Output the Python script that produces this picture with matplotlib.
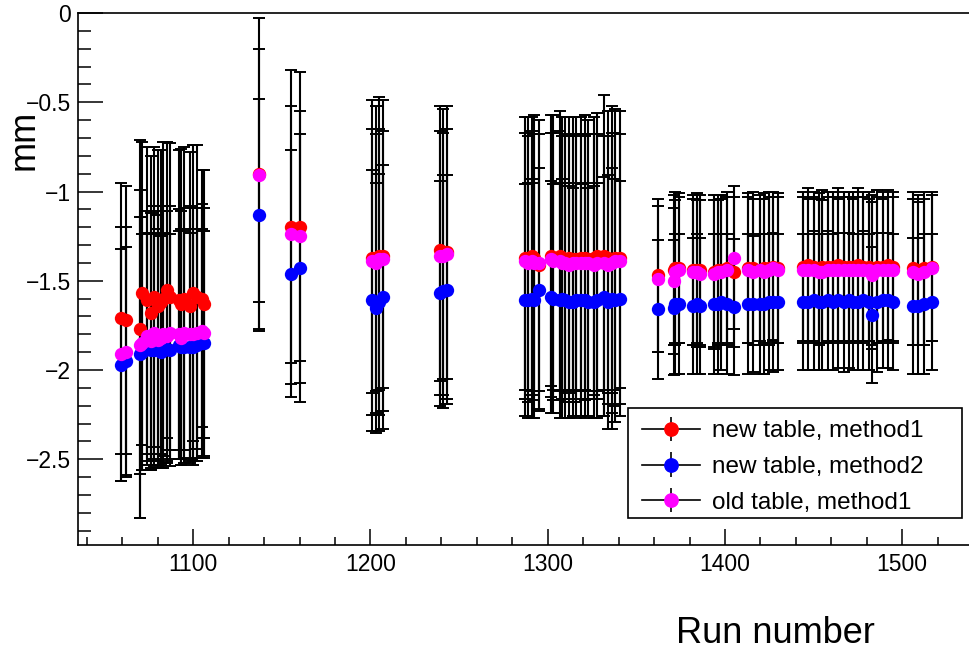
import numpy as np
import matplotlib
matplotlib.use('Agg')
import matplotlib.pyplot as plt
from matplotlib.patches import Rectangle
from matplotlib.ticker import MultipleLocator, FuncFormatter

plt.rcParams['font.family'] = ['Liberation Sans', 'DejaVu Sans']

# run numbers (grouped by data-taking period)
runs = [1059, 1062,
        1070, 1071, 1074, 1076, 1078, 1080, 1082, 1083, 1085, 1087, 1092, 1093, 1095, 1098, 1100, 1102, 1105, 1106,
        1137,
        1155, 1160,
        1201, 1203, 1205, 1207,
        1239, 1241, 1243,
        1287, 1289, 1291, 1292, 1295, 1302, 1303, 1307, 1308, 1310, 1312, 1314, 1316, 1319, 1321, 1323, 1326, 1328,
        1332, 1334, 1336, 1338, 1341,
        1362, 1371, 1372, 1374, 1382, 1384, 1386, 1394, 1396, 1398, 1401, 1405, 1413, 1416, 1420, 1422, 1425, 1427, 1430,
        1444, 1447, 1450, 1453, 1455, 1458, 1461, 1464, 1467, 1470, 1472, 1475, 1478, 1481, 1483, 1486, 1489, 1492, 1495,
        1506, 1509, 1512, 1517]

# new table, method1
red_y = [-1.71, -1.72,
         -1.77, -1.57, -1.61, -1.68, -1.59, -1.64, -1.62, -1.60, -1.55, -1.59, -1.61, -1.63, -1.60, -1.64, -1.57, -1.59, -1.60, -1.63,
         -0.90,
         -1.20, -1.20,
         -1.37, -1.38, -1.36, -1.36,
         -1.33, -1.34, -1.34,
         -1.37, -1.38, -1.36, -1.37, -1.41, -1.36, -1.37, -1.36, -1.37, -1.38, -1.37, -1.38, -1.38, -1.37, -1.37, -1.38, -1.37, -1.36,
         -1.36, -1.37, -1.38, -1.37, -1.37,
         -1.47, -1.44, -1.43, -1.43, -1.44, -1.44, -1.44, -1.45, -1.44, -1.44, -1.43, -1.45, -1.43, -1.43, -1.44, -1.43, -1.43, -1.42, -1.43,
         -1.42, -1.41, -1.42, -1.43, -1.42, -1.42, -1.42, -1.41, -1.42, -1.42, -1.42, -1.41, -1.42, -1.42, -1.44, -1.42, -1.42, -1.41, -1.42,
         -1.43, -1.44, -1.43, -1.42]
red_err = [0.76, 0.75,
           1.06, 0.85, 0.86, 0.88, 0.84, 0.87, 0.85, 0.88, 0.83, 0.86, 0.84, 0.87, 0.85, 0.86, 0.83, 0.85, 0.72, 0.75,
           0.87,
           0.88, 0.87,
           0.88, 0.86, 0.89, 0.87,
           0.81, 0.80, 0.82,
           0.79, 0.80, 0.78, 0.80, 0.81, 0.79, 0.80, 0.81, 0.79, 0.80, 0.79, 0.80, 0.80, 0.79, 0.80, 0.78, 0.79, 0.80,
           0.90, 0.82, 0.86, 0.83, 0.82,
           0.43, 0.42, 0.43, 0.42, 0.42, 0.43, 0.42, 0.43, 0.42, 0.42, 0.43, 0.42, 0.42, 0.43, 0.42, 0.42, 0.43, 0.42, 0.42,
           0.42, 0.43, 0.42, 0.42, 0.43, 0.42, 0.42, 0.43, 0.42, 0.42, 0.42, 0.43, 0.42, 0.42, 0.42, 0.43, 0.42, 0.42, 0.42,
           0.43, 0.42, 0.43, 0.42]

# new table, method2
blue_y = [-1.97, -1.95,
          -1.91, -1.90, -1.88, -1.89, -1.89, -1.88, -1.90, -1.89, -1.88, -1.89, -1.86, -1.87, -1.87, -1.87, -1.87, -1.86, -1.85, -1.85,
          -1.13,
          -1.46, -1.43,
          -1.61, -1.65, -1.62, -1.59,
          -1.57, -1.56, -1.55,
          -1.61, -1.61, -1.60, -1.61, -1.55, -1.59, -1.60, -1.61, -1.60, -1.61, -1.62, -1.62, -1.61, -1.61, -1.61, -1.62, -1.62, -1.61,
          -1.59, -1.62, -1.60, -1.61, -1.60,
          -1.66, -1.65, -1.63, -1.63, -1.64, -1.63, -1.64, -1.63, -1.63, -1.62, -1.63, -1.645, -1.63, -1.63, -1.63, -1.63, -1.62, -1.62, -1.62,
          -1.62, -1.62, -1.61, -1.62, -1.62, -1.61, -1.62, -1.61, -1.62, -1.61, -1.62, -1.62, -1.61, -1.62, -1.69, -1.62, -1.61, -1.61, -1.62,
          -1.64, -1.64, -1.63, -1.62]
blue_err = [0.65, 0.64,
            0.92, 0.66, 0.65, 0.66, 0.65, 0.67, 0.65, 0.66, 0.64, 0.65, 0.64, 0.66, 0.65, 0.64, 0.66, 0.65, 0.64, 0.63,
            0.65,
            0.69, 0.75,
            0.73, 0.70, 0.72, 0.74,
            0.63, 0.65, 0.64,
            0.65, 0.66, 0.67, 0.66, 0.68, 0.65, 0.64, 0.66, 0.67, 0.66, 0.65, 0.64, 0.66, 0.65, 0.66, 0.64, 0.65, 0.66,
            0.67, 0.71, 0.73, 0.68, 0.66,
            0.39, 0.38, 0.39, 0.39, 0.38, 0.39, 0.38, 0.39, 0.39, 0.38, 0.39, 0.38, 0.39, 0.38, 0.39, 0.39, 0.38, 0.39, 0.38,
            0.38, 0.38, 0.39, 0.38, 0.38, 0.39, 0.38, 0.38, 0.39, 0.38, 0.38, 0.38, 0.39, 0.38, 0.38, 0.39, 0.38, 0.38, 0.38,
            0.38, 0.38, 0.39, 0.38]

# old table, method1
mag_y = [-1.91, -1.90,
         -1.86, -1.85, -1.81, -1.84, -1.79, -1.83, -1.82, -1.80, -1.81, -1.79, -1.80, -1.82, -1.79, -1.80, -1.80, -1.79, -1.78, -1.79,
         -0.91,
         -1.24, -1.25,
         -1.39, -1.40, -1.38, -1.38,
         -1.36, -1.36, -1.35,
         -1.39, -1.40, -1.39, -1.40, -1.40, -1.38, -1.39, -1.39, -1.40, -1.40, -1.41, -1.40, -1.40, -1.40, -1.40, -1.40, -1.41, -1.40,
         -1.40, -1.41, -1.40, -1.39, -1.39,
         -1.49, -1.50, -1.45, -1.44, -1.45, -1.45, -1.46, -1.46, -1.45, -1.45, -1.44, -1.37, -1.44, -1.45, -1.44, -1.45, -1.44, -1.43, -1.44,
         -1.44, -1.44, -1.44, -1.45, -1.45, -1.44, -1.44, -1.44, -1.44, -1.44, -1.44, -1.44, -1.44, -1.44, -1.47, -1.44, -1.44, -1.44, -1.44,
         -1.45, -1.46, -1.45, -1.43]
mag_err = [0.71, 0.70,
           0.72, 0.71, 0.70, 0.72, 0.71, 0.70, 0.71, 0.72, 0.70, 0.71, 0.70, 0.71, 0.70, 0.72, 0.71, 0.70, 0.71, 0.70,
           0.71,
           0.72, 0.70,
           0.74, 0.72, 0.73, 0.72,
           0.70, 0.69, 0.70,
           0.72, 0.71, 0.73, 0.72, 0.72, 0.71, 0.72, 0.73, 0.71, 0.72, 0.72, 0.71, 0.72, 0.72, 0.71, 0.72, 0.73, 0.72,
           0.71, 0.72, 0.73, 0.72, 0.71,
           0.41, 0.41, 0.40, 0.41, 0.41, 0.40, 0.41, 0.41, 0.40, 0.41, 0.41, 0.40, 0.41, 0.41, 0.40, 0.41, 0.41, 0.40, 0.41,
           0.41, 0.40, 0.41, 0.41, 0.40, 0.41, 0.41, 0.40, 0.41, 0.41, 0.40, 0.41, 0.41, 0.40, 0.41, 0.41, 0.40, 0.41, 0.41,
           0.41, 0.40, 0.41, 0.41]

series = [
    ('new table, method1', red_y, red_err, '#ff0000'),
    ('new table, method2', blue_y, blue_err, '#0000ff'),
    ('old table, method1', mag_y, mag_err, '#ff00ff'),
]

W, H = 969, 653
fig = plt.figure(figsize=(W / 100, H / 100), dpi=100)
ax = fig.add_axes([78 / W, 1 - 545 / H, 904 / W, 532 / H])

# error bars first, markers on top (ROOT leaves a gap around markers)
for name, y, err, col in series:
    ax.errorbar(runs, y, yerr=err, fmt='none', ecolor='black', elinewidth=1.5,
                capsize=4.5, capthick=1.4, zorder=2)
for i, (name, y, err, col) in enumerate(series):
    ax.plot(runs, y, 'o', color=col, ms=9.6, mew=0, zorder=3 + 0.1 * i)

ax.set_xlim(1035, 1545)
ax.set_ylim(-2.98, 0)

ax.xaxis.set_major_locator(MultipleLocator(100))
ax.xaxis.set_minor_locator(MultipleLocator(20))
ax.yaxis.set_major_locator(MultipleLocator(0.5))
ax.yaxis.set_minor_locator(MultipleLocator(0.1))
ax.yaxis.set_major_formatter(FuncFormatter(lambda v, p: ('%g' % v).replace('-', '\u2212')))

ax.tick_params(axis='x', which='major', direction='in', length=11.5, width=1.1, labelsize=16.5, pad=6)
ax.tick_params(axis='x', which='minor', direction='in', length=5.5, width=1.1)
ax.tick_params(axis='y', which='major', direction='in', length=18, width=1.1, labelsize=16.5, pad=5)
ax.tick_params(axis='y', which='minor', direction='in', length=9, width=1.1)
for s in ax.spines.values():
    s.set_linewidth(1.2)
ax.spines['right'].set_visible(False)

fig.text(875 / W, 1 - 643 / H, 'Run number', ha='right', va='baseline', fontsize=26)
fig.text(24 / W, 1 - 140 / H, 'mm', ha='center', va='center', rotation=90, fontsize=26)

# legend (ROOT-style box drawn separately)
handles = []
for name, y, err, col in series:
    h = ax.errorbar([np.nan], [np.nan], yerr=[np.nan], fmt='-o', color='black', lw=1.2,
                    mfc=col, mec=col, ms=9.6, ecolor='black', elinewidth=1.2, capsize=0, label=name)
    handles.append(h)
leg = ax.legend(handles=handles, loc='upper left', bbox_to_anchor=(0.6236, 0.2342), frameon=False,
                fontsize=17.5, handlelength=2.4, handletextpad=0.5, labelspacing=0.56,
                borderpad=0, borderaxespad=0, numpoints=1)
leg.set_zorder(6)
ax.add_patch(Rectangle((0.6084, 0.0508), 0.3695, 0.2068, transform=ax.transAxes,
                       fill=True, facecolor='white', edgecolor='black', lw=1.2, zorder=5))

fig.savefig('out.png', dpi=100)
